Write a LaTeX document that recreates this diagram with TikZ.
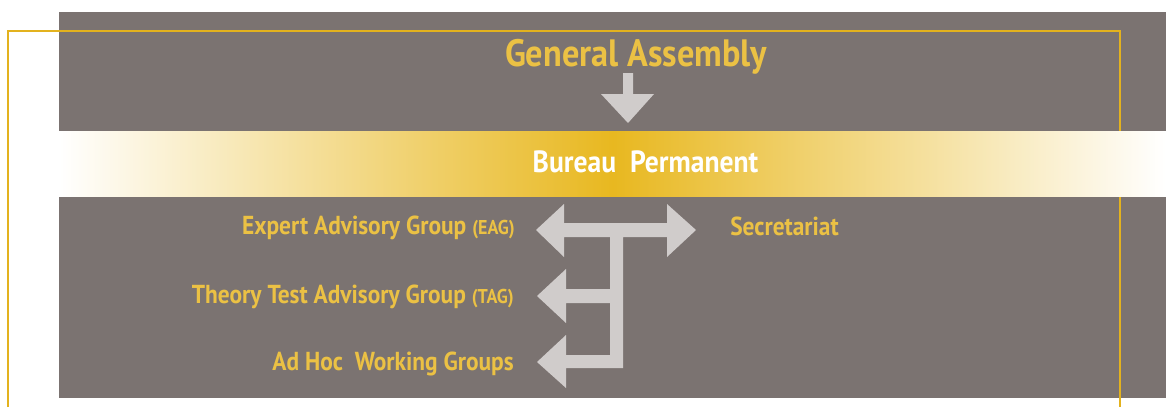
\documentclass[tikz,border=0pt]{standalone}
\usepackage{fontspec}
\setmainfont[FakeStretch=0.9]{PT Sans}
\definecolor{bggray}{HTML}{7B7371}
\definecolor{arrowgray}{HTML}{D0CCCB}
\definecolor{txtgold}{HTML}{EBC144}
\definecolor{bandgold}{HTML}{E8B820}
\definecolor{framegold}{HTML}{E3B21E}
\begin{document}
\begin{tikzpicture}[x=0.75pt,y=-0.75pt,
  panel/.style={fill=bggray},
  framestyle/.style={draw=framegold,line width=1.5pt},
  blockarrow/.style={fill=arrowgray},
  grouplabel/.style={text=txtgold,font=\bfseries\fontsize{19.5}{21}\selectfont,inner sep=0pt},
  titlelabel/.style={text=txtgold,font=\bfseries\fontsize{28.6}{30}\selectfont,inner sep=0pt},
  bureaulabel/.style={text=white,font=\bfseries\fontsize{23}{24}\selectfont,inner sep=0pt}]
\useasboundingbox (0,0) rectangle (1166,407);
% panels
\fill[panel] (59,12) rectangle (1166,131);
\fill[panel] (59,196) rectangle (1166,398);
% frame line
\draw[framestyle] (8,407) -- (8,31) -- (1120,31) -- (1120,407);
% gradient band
\shade[left color=white,right color=white,middle color=bandgold] (59,131) rectangle (1166,196);
% texts
\node[titlelabel,anchor=base] (ga) at (636,66) {General Assembly};
\node[bureaulabel,anchor=base] (bp) at (645.5,172) {Bureau\ \ Permanent};
\node[grouplabel,anchor=base east] (eag) at (515,234.5) {Expert Advisory Group {\fontsize{15}{16}\selectfont(EAG)}};
\node[grouplabel,anchor=base east] (tag) at (514,303.3) {Theory Test Advisory Group {\fontsize{15}{16}\selectfont(TAG)}};
\node[grouplabel,anchor=base east] (adhoc) at (514,370) {Ad Hoc\ \ Working Groups};
\node[grouplabel,anchor=base west] (sec) at (730,235) {Secretariat};
% down arrow
\fill[blockarrow] (623,73) -- (633,73) -- (633,94) -- (654,94) -- (628,123) -- (601,94) -- (623,94) -- cycle;
% branching arrows
\fill[blockarrow] (536,230) -- (564,204) -- (564,223) -- (667,223) -- (667,204) -- (696,230)
  -- (667,257) -- (667,237) -- (623,237) -- (623,368) -- (566,368) -- (566,388) -- (537,362)
  -- (566,335) -- (566,355) -- (610,355) -- (610,303) -- (566,303) -- (566,323) -- (537,296)
  -- (566,269) -- (566,289) -- (610,289) -- (610,237) -- (564,237) -- (564,257) -- cycle;
\end{tikzpicture}
\end{document}
